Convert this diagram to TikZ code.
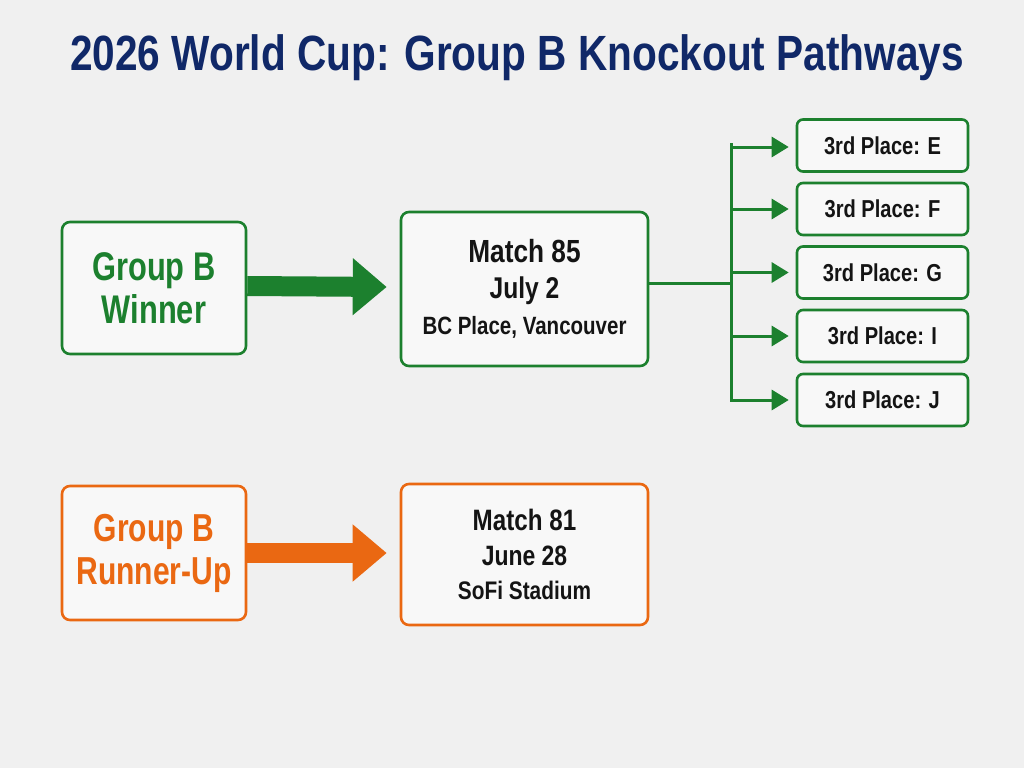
\documentclass[tikz,border=0pt]{standalone}
\usepackage{fontspec}
\setmainfont{Liberation Sans}[FakeStretch=0.82]
\newfontfamily\narrowf{Liberation Sans}[FakeStretch=0.77]
\usetikzlibrary{arrows.meta,calc}
\definecolor{bg}{RGB}{240,240,240}
\definecolor{boxfill}{RGB}{248,248,248}
\definecolor{gr}{RGB}{28,128,46}
\definecolor{orng}{RGB}{234,104,18}
\definecolor{navy}{RGB}{16,40,104}
\definecolor{txt}{RGB}{20,20,20}
\begin{document}
\begin{tikzpicture}[x=1pt,y=-1pt,
  box/.style={draw, line width=2.6pt, rounded corners=8pt, fill=boxfill, align=center, inner sep=0pt},
  gbox/.style={box, draw=gr},
  obox/.style={box, draw=orng},
  small/.style={gbox, minimum width=171pt, minimum height=52pt, rounded corners=6pt, font=\fontsize{24.5}{26}\selectfont\bfseries, text=txt},
  fat/.style={line width=20pt, -{Triangle[length=34pt,width=55pt]}},
  branch/.style={draw=gr, line width=3pt},
  barrow/.style={branch, -{Triangle[length=17pt,width=20pt]}, shorten >=7pt}
]
\useasboundingbox[fill=bg] (0,0) rectangle (1024,768);

\node[text=navy, font=\fontsize{49.5}{56}\selectfont\bfseries] (title) at (517,58) {2026 World Cup: Group B Knockout Pathways};

% top row
\node[gbox, minimum width=184pt, minimum height=132pt, text=gr, font=\narrowf\fontsize{40}{43}\selectfont\bfseries] (win) at (154,288) {Group B\\Winner};
\node[gbox, minimum width=247pt, minimum height=154pt, text=txt, font=\fontsize{32}{36}\selectfont\bfseries] (m85) at (524.5,289)
  {Match 85\\\fontsize{30}{36}\selectfont July 2\\\fontsize{25}{36}\selectfont BC Place, Vancouver};

\node[small] (e) at (882.5,145.5) {3rd Place: E};
\node[small] (f) at (882.5,209) {3rd Place: F};
\node[small] (g) at (882.5,272.5) {3rd Place: G};
\node[small] (i) at (882.5,336) {3rd Place: I};
\node[small] (j) at (882.5,400) {3rd Place: J};

\draw[fat, draw=gr] ([yshift=2pt]win.east) -- ([xshift=-13pt,yshift=2pt]m85.west);

\coordinate (bt) at (731,143);
\coordinate (bb) at (731,401.5);
\draw[branch] ([yshift=6pt]m85.east) -- ([yshift=6pt]m85.east -| bt);
\draw[branch] (bt) -- (bb);
\draw[barrow] (731,147) -- (e.west |- 0,147);
\foreach \n in {f,g,i,j}{
  \draw[barrow] (\n.west -| bt) -- (\n.west);
}

% bottom row
\node[obox, minimum width=184pt, minimum height=134pt, text=orng, font=\narrowf\fontsize{39}{43}\selectfont\bfseries] (run) at (154,553) {Group B\\Runner-Up};
\node[obox, minimum width=247pt, minimum height=141pt, text=txt, font=\fontsize{29.5}{34.5}\selectfont\bfseries] (m81) at (524.5,554.5)
  {Match 81\\\fontsize{28}{34.5}\selectfont June 28\\\fontsize{25.4}{34.5}\selectfont SoFi Stadium};

\draw[fat, draw=orng] (run.east) -- ([xshift=-13pt]m81.west |- run.east);
\end{tikzpicture}
\end{document}
